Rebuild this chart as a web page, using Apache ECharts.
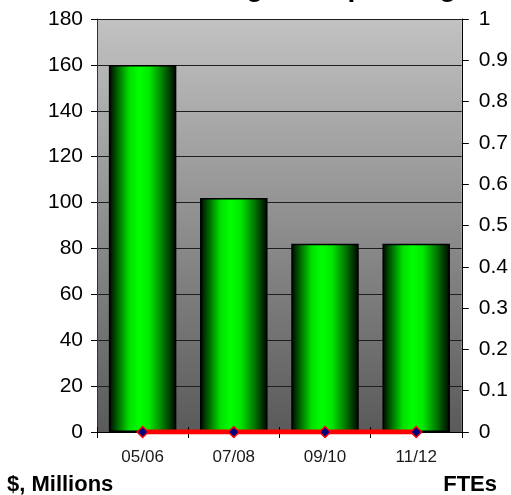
<!DOCTYPE html>
<html>
<head>
<meta charset="utf-8">
<script src="https://cdn.jsdelivr.net/npm/echarts@6/dist/echarts.min.js"></script>
<style>
  html, body { margin: 0; padding: 0; background: #ffffff; }
  #chart { width: 511px; height: 495px; }
</style>
</head>
<body>
<div id="chart"></div>
<script>
// Fiscal periods on the category axis
const periods = ['05/06', '07/08', '09/10', '11/12'];
// Spending, $ millions (left axis)
const spending = [160, 102, 82, 82];
// Staffing, FTEs (right axis)
const ftes = [0, 0, 0, 0];
// Axis ranges
const dollarMin = 0, dollarMax = 180, dollarStep = 20;
const fteMin = 0, fteMax = 1, fteStep = 0.1;

const chart = echarts.init(document.getElementById('chart'), null, { renderer: 'canvas' });

const font = '"Liberation Sans", Arial, sans-serif';

const barFill = {
  type: 'linear', x: 0, y: 0, x2: 1, y2: 0,
  colorStops: [
    { offset: 0.00, color: '#000000' },
    { offset: 0.08, color: '#004000' },
    { offset: 0.30, color: '#00e000' },
    { offset: 0.45, color: '#00ff00' },
    { offset: 0.60, color: '#00e800' },
    { offset: 0.80, color: '#007a00' },
    { offset: 0.95, color: '#002000' },
    { offset: 1.00, color: '#000000' }
  ]
};

const plotFill = {
  type: 'linear', x: 0, y: 0, x2: 0, y2: 1,
  colorStops: [
    { offset: 0, color: '#c2c2c2' },
    { offset: 1, color: '#5a5a5a' }
  ]
};

chart.setOption({
  animation: false,
  backgroundColor: '#ffffff',
  title: {
    text: 'Funding and Spending',
    left: 153,
    top: -26,
    padding: 0,
    textStyle: { fontFamily: font, fontSize: 28, fontWeight: 'bold', color: '#000' }
  },
  grid: {
    left: 97, right: 48, top: 19, bottom: 63,
    show: true,
    backgroundColor: plotFill,
    borderWidth: 0
  },
  xAxis: [
    {
      type: 'category',
      data: periods,
      position: 'bottom',
      axisLine: { show: true, lineStyle: { color: '#000', width: 1 } },
      axisTick: { show: true, length: 6, lineStyle: { color: '#000' } },
      axisLabel: { fontFamily: font, fontSize: 17, color: '#1a1a1a', margin: 17 },
      z: 5
    },
    {
      type: 'category',
      data: periods,
      position: 'bottom',
      axisLine: { show: false },
      axisTick: { show: true, inside: true, length: 5, lineStyle: { color: '#000' } },
      axisLabel: { show: false },
      z: 5
    }
  ],
  yAxis: [
    {
      type: 'value',
      min: dollarMin, max: dollarMax, interval: dollarStep,
      position: 'left',
      axisLine: { show: true, lineStyle: { color: '#333', width: 1 } },
      axisTick: { show: true, length: 6, lineStyle: { color: '#000' } },
      axisLabel: { fontFamily: font, fontSize: 21, color: '#000', margin: 14 },
      splitLine: { show: true, lineStyle: { color: '#1e1e1e', width: 1 } }
    },
    {
      type: 'value',
      min: fteMin, max: fteMax, interval: fteStep,
      position: 'right',
      axisLine: { show: true, lineStyle: { color: '#000', width: 1 } },
      axisTick: { show: true, length: 7, lineStyle: { color: '#000' } },
      axisLabel: {
        fontFamily: font, fontSize: 21, color: '#000', margin: 17,
        formatter: v => String(Math.round(v * 10) / 10)
      },
      splitLine: { show: false }
    }
  ],
  series: [
    {
      name: '$, Millions',
      type: 'bar',
      xAxisIndex: 0,
      yAxisIndex: 0,
      data: spending,
      barWidth: '74%',
      itemStyle: { color: barFill, borderColor: '#000', borderWidth: 1.5 },
      z: 2
    },
    {
      name: 'FTEs',
      type: 'line',
      xAxisIndex: 0,
      yAxisIndex: 1,
      data: ftes,
      symbol: 'diamond',
      symbolSize: 11,
      showAllSymbol: true,
      lineStyle: { color: '#ff0000', width: 5 },
      itemStyle: { color: '#000080', borderColor: '#ff0000', borderWidth: 1.5 },
      z: 6
    }
  ],
  graphic: [
    {
      type: 'text', left: 7, top: 474,
      style: { text: '$, Millions', font: 'bold 22px ' + font, fill: '#000' }
    },
    {
      type: 'text', right: 14, top: 474,
      style: { text: 'FTEs', font: 'bold 22px ' + font, fill: '#000' }
    }
  ]
});
</script>
</body>
</html>
